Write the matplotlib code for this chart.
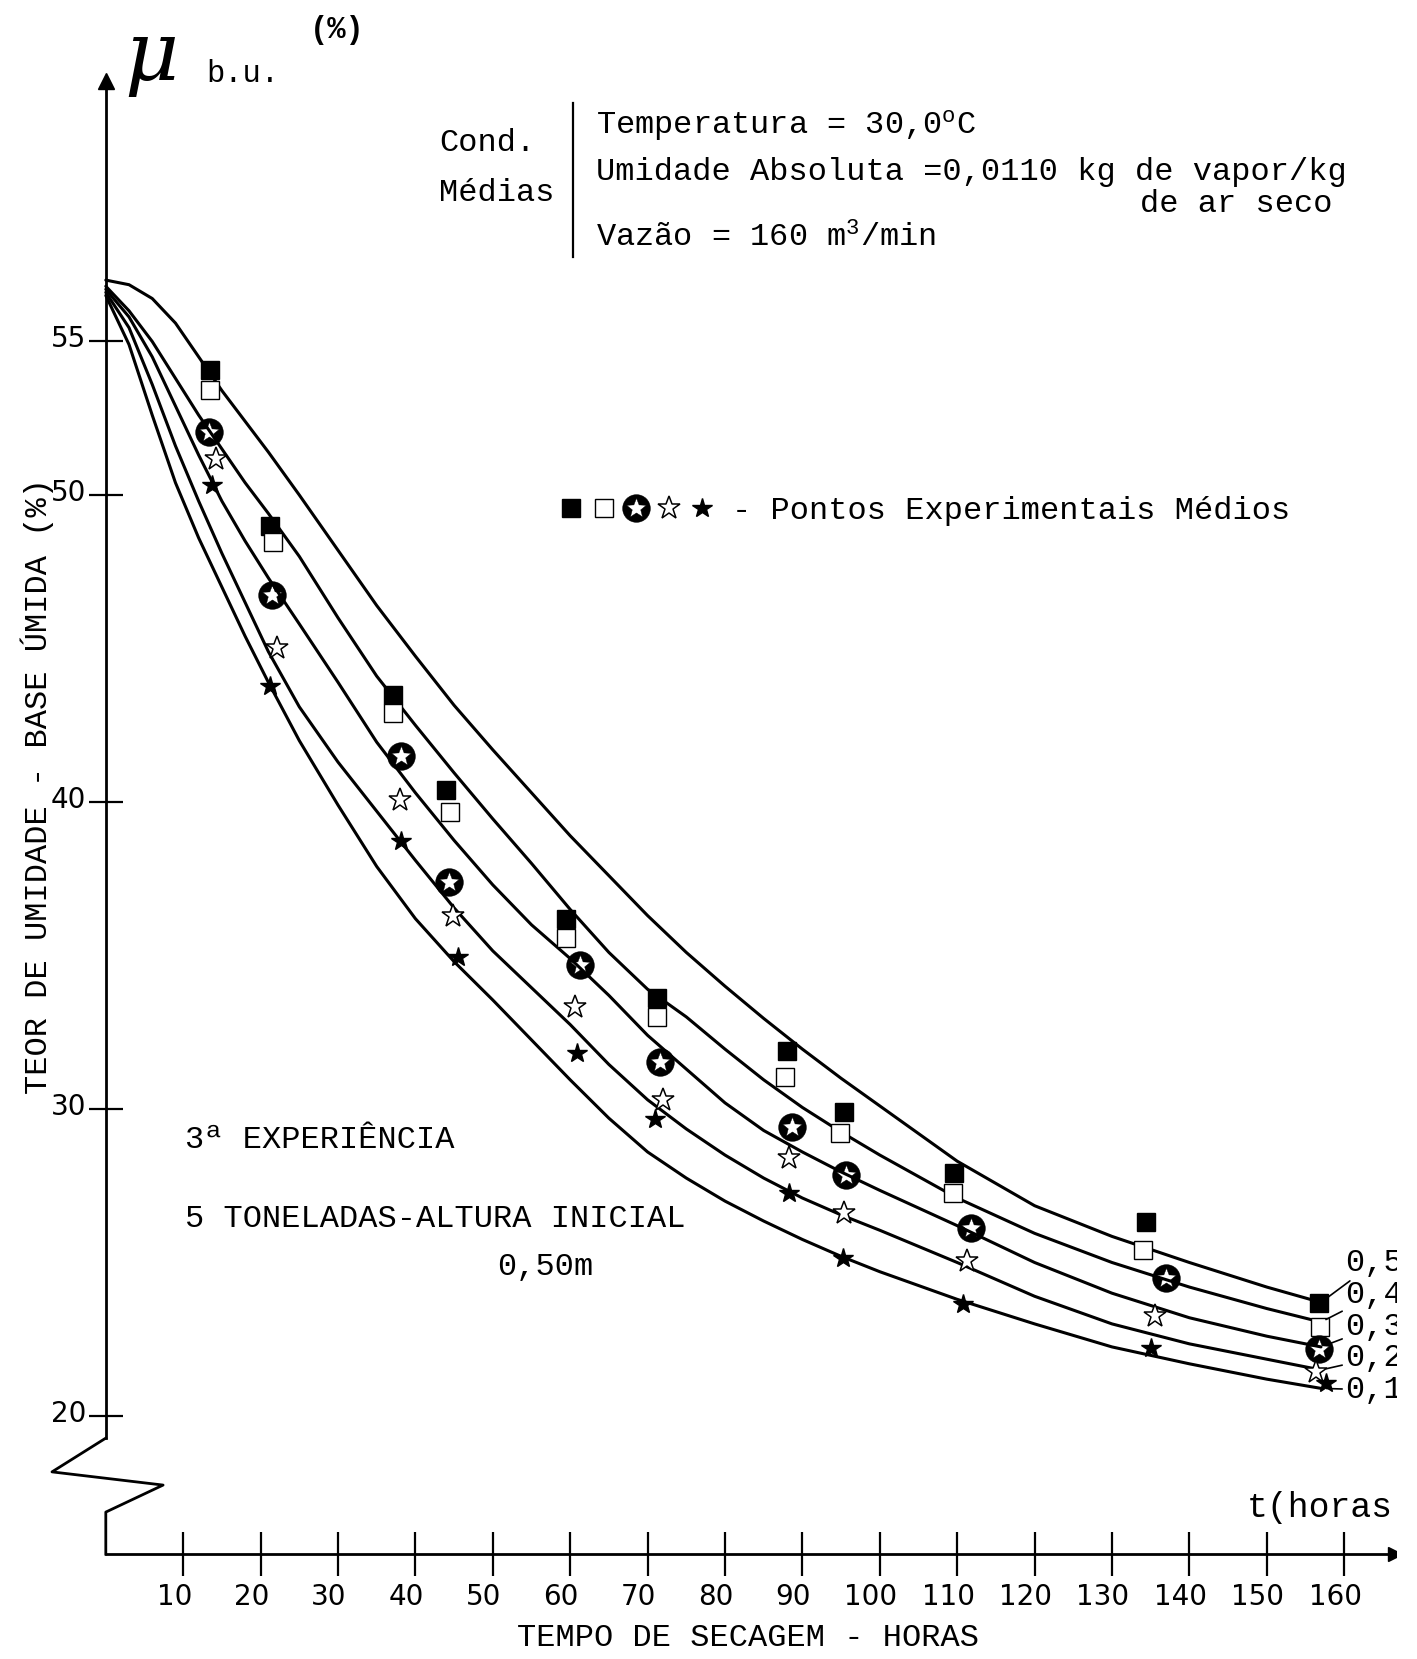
import matplotlib
matplotlib.use('Agg')
import matplotlib.pyplot as plt
from matplotlib.path import Path
from matplotlib.patches import Rectangle
from matplotlib.lines import Line2D
from matplotlib.legend_handler import HandlerTuple
from matplotlib.transforms import ScaledTranslation
import numpy as np

plt.rcParams['mathtext.fontset'] = 'custom'
plt.rcParams['mathtext.rm'] = 'Liberation Mono'
plt.rcParams['mathtext.it'] = 'Liberation Mono'

# ---- dados ----
x_ticks = list(range(10, 161, 10))
y_ticks = [20, 30, 40, 50, 55]

# curvas ajustadas (teor de umidade b.u. x tempo) para cada camada
camadas = ['0,5', '0,4', '0,3', '0,2', '0,1']
t_curva = [0, 3, 6, 9, 12, 15, 18, 21, 25, 30, 35, 40, 45, 50, 55, 60, 65, 70,
           75, 80, 85, 90, 95, 100, 110, 120, 130, 140, 150, 157]
u_05 = [57.0, 56.85, 56.4, 55.6, 54.5, 53.4, 52.4, 51.4, 50.0, 48.2, 46.4, 44.75,
        43.15, 41.7, 40.3, 38.9, 37.6, 36.3, 35.1, 34.0, 32.95, 31.95, 31.0, 30.1,
        28.3, 26.85, 25.85, 25.0, 24.2, 23.7]
u_04 = [56.8, 56.0, 55.0, 53.8, 52.6, 51.5, 50.4, 49.4, 48.0, 46.0, 44.1, 42.5,
        40.95, 39.45, 38.0, 36.5, 35.1, 33.9, 33.0, 31.95, 30.95, 30.05, 29.25,
        28.5, 27.1, 25.95, 25.0, 24.2, 23.5, 23.06]
u_03 = [56.7, 55.8, 54.5, 52.9, 51.3, 49.8, 48.5, 47.3, 45.8, 43.9, 41.95, 40.3,
        38.75, 37.3, 36.0, 34.9, 33.7, 32.4, 31.3, 30.2, 29.3, 28.6, 27.95, 27.35,
        26.2, 25.0, 24.0, 23.2, 22.6, 22.25]
u_02 = [56.6, 55.45, 53.6, 51.6, 49.8, 48.1, 46.5, 44.9, 43.1, 41.3, 39.7, 38.1,
        36.55, 35.15, 33.95, 32.75, 31.45, 30.3, 29.35, 28.5, 27.75, 27.1, 26.55,
        26.05, 25.0, 23.9, 23.0, 22.35, 21.85, 21.5]
u_01 = [56.5, 54.9, 52.6, 50.4, 48.6, 47.0, 45.4, 43.9, 42.0, 39.9, 37.9, 36.2,
        34.8, 33.55, 32.25, 30.95, 29.7, 28.6, 27.75, 27.0, 26.35, 25.75, 25.2,
        24.7, 23.8, 23.0, 22.25, 21.7, 21.2, 20.9]
curvas = [u_05, u_04, u_03, u_02, u_01]

# pontos experimentais medios
t_qc = [13.4, 21.2, 37.1, 43.9, 59.5, 71.2, 88.0, 95.4, 109.6, 134.4, 156.8]
u_qc = [54.07, 49.0, 43.48, 40.38, 36.2, 33.62, 31.9, 29.9, 27.93, 26.31, 23.69]
t_qa = [13.5, 21.6, 37.1, 44.5, 59.5, 71.2, 87.8, 94.9, 109.5, 134.0, 156.9]
u_qa = [53.42, 48.47, 42.9, 39.67, 35.57, 33.0, 31.04, 29.22, 27.26, 25.41, 22.9]
t_ce = [13.3, 21.5, 38.2, 44.4, 61.3, 71.6, 88.7, 95.6, 111.8, 137.0, 156.8]
u_ce = [52.06, 46.73, 41.5, 37.4, 34.69, 31.54, 29.41, 27.85, 26.13, 24.48, 22.17]
t_ea = [14.2, 22.1, 38.0, 44.8, 60.6, 72.0, 88.3, 95.4, 111.3, 135.6, 156.4]
u_ea = [51.18, 45.03, 40.05, 36.29, 33.31, 30.3, 28.41, 26.61, 25.05, 23.27, 21.42]
t_ec = [13.7, 21.2, 38.2, 45.5, 60.9, 70.9, 88.3, 95.2, 110.7, 135.0, 157.7]
u_ec = [50.33, 43.77, 38.74, 34.95, 31.84, 29.66, 27.27, 25.15, 23.66, 22.23, 21.07]

# posicao dos rotulos das camadas (t, u)
t_rot = 160.1
u_rot = [24.98, 23.94, 22.9, 21.89, 20.85]

# ---- escala da folha ----
W, H = 1417, 1659
X0, PX_H = 105.8, 7.74      # px do t=0 e px por hora
Y20, PX_U = 1416.0, 30.7    # px do 20 % e px por ponto %
U_EIXO_T = 15.5             # nivel do eixo dos tempos (abaixo da quebra)


def fx(px):
    return px / W


def fy(py):
    return 1 - py / H


mono = dict(family='Liberation Mono', size=23, color='k')

fig = plt.figure(figsize=(W / 100, H / 100), dpi=100)
ax = fig.add_axes([0, 0, 1, 1])
ax.set_xlim(-X0 / PX_H, (W - X0) / PX_H)
ax.set_ylim(20 - (H - Y20) / PX_U, 20 + Y20 / PX_U)

# eixos
ax.spines['top'].set_visible(False)
ax.spines['right'].set_visible(False)
ax.spines['left'].set_position(('data', 0))
ax.spines['left'].set_bounds(19.28, 63.3)
ax.spines['bottom'].set_position(('data', U_EIXO_T))
ax.spines['bottom'].set_bounds(0, 167)
for s in ('left', 'bottom'):
    ax.spines[s].set_linewidth(2)
# quebra do eixo vertical
ax.plot([0, -6.95, 7.4, 0, 0], [19.28, 18.18, 17.75, 16.87, U_EIXO_T],
        color='k', lw=2, clip_on=False)
ax.plot([0], [63.5], marker='^', ms=11, color='k', clip_on=False)
ax.plot([166.6], [U_EIXO_T], marker='>', ms=10, color='k', clip_on=False)

ax.set_xticks(x_ticks)
ax.set_yticks(y_ticks)
ax.tick_params(axis='x', direction='inout', length=31, width=1.6, pad=5,
               labelsize=20)
ax.tick_params(axis='y', direction='inout', length=25, width=1.6, pad=1.5,
               labelsize=20)
desloc = ScaledTranslation(-0.09, 0, fig.dpi_scale_trans)
for lbl in ax.get_xticklabels():
    lbl.set_transform(lbl.get_transform() + desloc)
sobe = ScaledTranslation(0, 0.05, fig.dpi_scale_trans)
for lbl in ax.get_yticklabels():
    lbl.set_transform(lbl.get_transform() + sobe)

# curvas
for u in curvas:
    ax.plot(t_curva, u, color='k', lw=2.2, solid_capstyle='round',
            solid_joinstyle='round', zorder=2)

# marcador circulo negro com estrela vazada
ang = np.deg2rad(90 - np.arange(10) * 36)
rad = np.where(np.arange(10) % 2 == 0, 0.74, 0.32)
est = np.column_stack([rad * np.cos(ang), rad * np.sin(ang)])
est = np.vstack([est, est[:1]])
cod = [Path.MOVETO] + [Path.LINETO] * 9 + [Path.CLOSEPOLY]
circ_est = Path.make_compound_path(Path.unit_circle(), Path(est, cod))

h1, = ax.plot(t_qc, u_qc, ls='none', marker='s', ms=13, mfc='k', mec='k',
              zorder=3)
h2, = ax.plot(t_qa, u_qa, ls='none', marker='s', ms=13, mfc='white', mec='k',
              mew=1.0, zorder=3)
h3, = ax.plot(t_ce, u_ce, ls='none', marker=circ_est, ms=20, mfc='k', mec='k',
              mew=0.3, zorder=3)
h4, = ax.plot(t_ea, u_ea, ls='none', marker='*', ms=17, mfc='white', mec='k',
              mew=1.1, zorder=3)
h5, = ax.plot(t_ec, u_ec, ls='none', marker='*', ms=15, mfc='k', mec='k',
              zorder=3)

# rotulos das camadas
for nome, u, ur in zip(camadas, curvas, u_rot):
    ax.annotate(nome, xy=(t_curva[-1], u[-1]), xytext=(t_rot, ur),
                va='center', ha='left', **mono,
                arrowprops=dict(arrowstyle='-', lw=1.2, color='k',
                                shrinkA=0, shrinkB=4))

ax.legend([(h1, h2, h3, h4, h5)], ['- Pontos Experimentais Médios'],
          handler_map={tuple: HandlerTuple(ndivide=None, pad=0.3)},
          frameon=False, loc='center left',
          bbox_to_anchor=(fx(559), fy(511)), borderpad=0, borderaxespad=0,
          handlelength=4.85, handletextpad=0.55,
          prop={'family': 'Liberation Mono', 'size': 23})

# textos
fig.text(fx(124), fy(80), 'μ', family='DejaVu Serif', style='italic',
         size=60, va='baseline')
fig.text(fx(206), fy(74), 'b.u.', va='center', **dict(mono, size=22))
fig.text(fx(310), fy(30), '(%)', va='center', weight='bold',
         **dict(mono, size=22))

fig.text(fx(439), fy(143), 'Cond.', va='center', **mono)
fig.text(fx(439), fy(193), 'Médias', va='center', **mono)
fig.add_artist(Line2D([fx(573), fx(573)], [fy(103), fy(257)], color='k',
                      lw=1.6, transform=fig.transFigure))
fig.text(fx(596), fy(125), 'Temperatura = 30,0$^{\\mathrm{o}}$C', va='center',
         **mono)
fig.text(fx(596), fy(172), 'Umidade Absoluta =0,0110 kg de vapor/kg',
         va='center', **mono)
fig.text(fx(1140), fy(204), 'de ar seco', va='center', **mono)
fig.text(fx(596), fy(238), 'Vazão = 160 m$^{3}$/min', va='center', **mono)

fig.text(fx(185), fy(1140), '3ª EXPERIÊNCIA', va='center', **mono)
fig.text(fx(185), fy(1219), '5 TONELADAS-ALTURA INICIAL', va='center', **mono)
fig.text(fx(497), fy(1267), '0,50m', va='center', **mono)

fig.text(fx(1247), fy(1507), 't(horas)', va='center', **dict(mono, size=25))
fig.text(fx(748), fy(1638), 'TEMPO DE SECAGEM - HORAS', ha='center',
         va='center', **mono)
fig.text(fx(37), fy(786), 'TEOR DE UMIDADE - BASE ÚMIDA (%)', rotation=90,
         ha='center', va='center', **mono)

# margem branca da folha a direita
fig.add_artist(Rectangle((fx(1397), 0), fx(W) - fx(1397), 1,
                         transform=fig.transFigure, facecolor='white',
                         edgecolor='none', zorder=10))

fig.savefig('out.png', dpi=100)
